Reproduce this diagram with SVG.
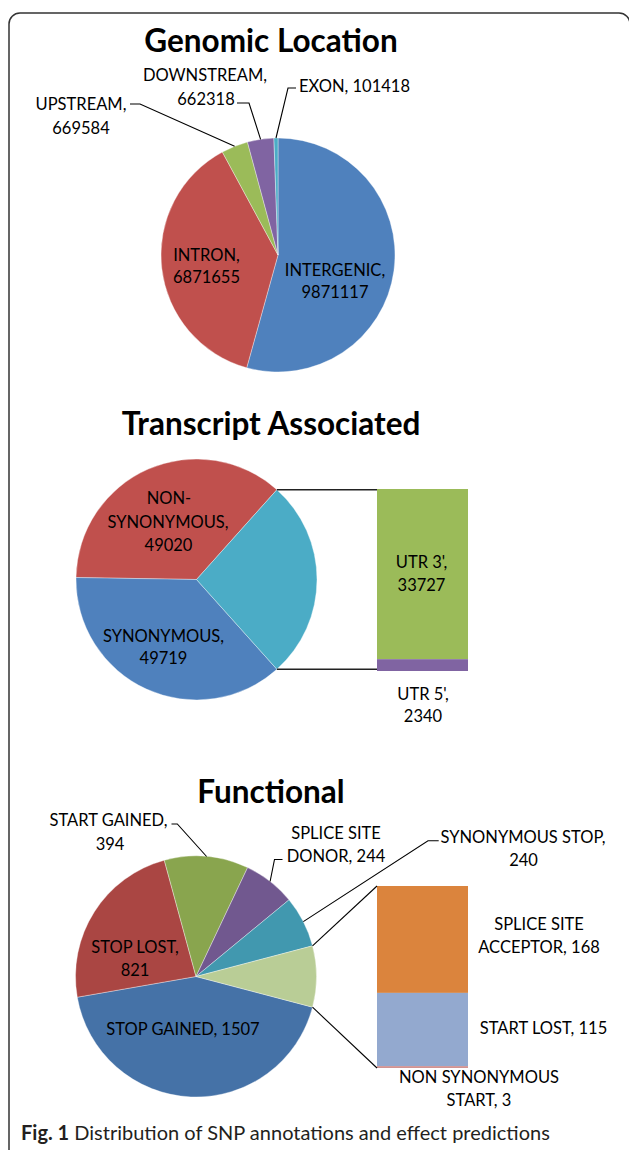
<svg xmlns="http://www.w3.org/2000/svg" width="629" height="1150" viewBox="0 0 629 1150">
  <style>
    text { font-family: Lato, "Liberation Sans", sans-serif; fill: #000; }
    .title { font-weight: 700; font-size: 31.5px; text-anchor: middle; }
    .lbl { font-size: 16.5px; text-anchor: middle; }
    .cap { font-size: 20px; fill: #231f20; }
    .sep { stroke: #ffffff; stroke-opacity: 0.45; stroke-width: 0.8; }
    .lead { stroke: #000; stroke-width: 1.1; fill: none; }
    .link { stroke: #222; stroke-width: 1.4; fill: none; }
    .frame { stroke: #333; stroke-width: 1.5; fill: none; }
  </style>

  <!-- figure frame -->
  <path class="frame" d="M9,1150 V24 A11,11 0 0 1 20,13 H619 A11,11 0 0 1 630,24"/>

  <!-- ===== Genomic Location ===== -->
  <text class="title" x="271" y="52">Genomic Location</text>

  <g id="genomic-intergenic">
    <path class="sep" fill="#4F81BD" d="M278,255 L278,138 A117,117 0 1 1 246.71,367.74 Z"/>
    <text class="lbl" x="335" y="276">INTERGENIC,</text>
    <text class="lbl" x="335" y="298">9871117</text>
  </g>
  <g id="genomic-intron">
    <path class="sep" fill="#C0504D" d="M278,255 L246.71,367.74 A117,117 0 0 1 222.37,152.07 Z"/>
    <text class="lbl" x="206.5" y="260.5">INTRON,</text>
    <text class="lbl" x="206.5" y="283">6871655</text>
  </g>
  <g id="genomic-upstream">
    <path class="sep" fill="#9BBB59" d="M278,255 L222.37,152.07 A117,117 0 0 1 247.46,142.06 Z"/>
    <text class="lbl" x="81" y="110">UPSTREAM,</text>
    <text class="lbl" x="81" y="133.5">669584</text>
  </g>
  <g id="genomic-downstream">
    <path class="sep" fill="#8064A2" d="M278,255 L247.46,142.06 A117,117 0 0 1 273.90,138.07 Z"/>
    <text class="lbl" x="205" y="81">DOWNSTREAM,</text>
    <text class="lbl" x="206" y="104.5">662318</text>
  </g>
  <g id="genomic-exon">
    <path class="sep" fill="#4BACC6" d="M278,255 L273.90,138.07 A117,117 0 0 1 278,138 Z"/>
    <text class="lbl" x="354.5" y="92">EXON, 101418</text>
  </g>

  <!-- ===== Transcript Associated ===== -->
  <text class="title" x="271" y="435">Transcript Associated</text>

  <g id="transcript-nonsyn">
    <path class="sep" fill="#C0504D" d="M196.5,579.5 L76.02,577.54 A120.5,120.5 0 0 1 276.88,489.73 Z"/>
    <text class="lbl" x="169" y="504">NON-</text>
    <text class="lbl" x="168" y="527.5">SYNONYMOUS,</text>
    <text class="lbl" x="168.5" y="551">49020</text>
  </g>
  <g id="transcript-syn">
    <path class="sep" fill="#4F81BD" d="M196.5,579.5 L276.88,669.27 A120.5,120.5 0 0 1 76.02,577.54 Z"/>
    <text class="lbl" x="163.5" y="642">SYNONYMOUS,</text>
    <text class="lbl" x="163.5" y="664">49719</text>
  </g>
  <g id="transcript-utr">
    <path class="sep" fill="#4BACC6" d="M196.5,579.5 L276.88,489.73 A120.5,120.5 0 0 1 276.88,669.27 Z"/>
  </g>
  <g id="transcript-utr3">
    <rect x="377" y="489" width="91" height="170.2" fill="#9BBB59"/>
    <text class="lbl" x="421.5" y="567.5">UTR 3',</text>
    <text class="lbl" x="421.5" y="590.5">33727</text>
  </g>
  <g id="transcript-utr5">
    <rect x="377" y="659.2" width="91" height="11.8" fill="#8064A2"/>
    <text class="lbl" x="423" y="700">UTR 5',</text>
    <text class="lbl" x="423" y="722">2340</text>
  </g>

  <!-- ===== Functional ===== -->
  <text class="title" x="271" y="803">Functional</text>

  <g id="func-stop-gained">
    <path class="sep" fill="#4572A7" d="M196,976.5 L312.53,1007.16 A120.5,120.5 0 0 1 77.29,997.21 Z"/>
    <text class="lbl" x="183" y="1035">STOP GAINED, 1507</text>
  </g>
  <g id="func-stop-lost">
    <path class="sep" fill="#AA4643" d="M196,976.5 L77.29,997.21 A120.5,120.5 0 0 1 164.29,860.25 Z"/>
    <text class="lbl" x="135" y="953">STOP LOST,</text>
    <text class="lbl" x="135" y="975.5">821</text>
  </g>
  <g id="func-start-gained">
    <path class="sep" fill="#89A54E" d="M196,976.5 L164.29,860.25 A120.5,120.5 0 0 1 247.61,867.61 Z"/>
    <text class="lbl" x="108.5" y="826">START GAINED,</text>
    <text class="lbl" x="110" y="849.5">394</text>
  </g>
  <g id="func-splice-donor">
    <path class="sep" fill="#71588F" d="M196,976.5 L247.61,867.61 A120.5,120.5 0 0 1 288.99,899.86 Z"/>
    <text class="lbl" x="336" y="838.5">SPLICE SITE</text>
    <text class="lbl" x="336" y="861.5">DONOR, 244</text>
  </g>
  <g id="func-syn-stop">
    <path class="sep" fill="#4198AF" d="M196,976.5 L288.99,899.86 A120.5,120.5 0 0 1 312.53,945.84 Z"/>
    <text class="lbl" x="523" y="842.5">SYNONYMOUS STOP,</text>
    <text class="lbl" x="523.5" y="865.5">240</text>
  </g>
  <g id="func-other">
    <path class="sep" fill="#B9CD96" d="M196,976.5 L312.53,945.84 A120.5,120.5 0 0 1 312.53,1007.16 Z"/>
  </g>
  <g id="func-splice-acceptor">
    <rect x="377" y="886" width="91" height="106.9" fill="#DB843D"/>
    <text class="lbl" x="539" y="930">SPLICE SITE</text>
    <text class="lbl" x="539" y="953">ACCEPTOR, 168</text>
  </g>
  <g id="func-start-lost">
    <rect x="377" y="992.9" width="91" height="73.2" fill="#93A9CF"/>
    <text class="lbl" x="543.5" y="1033.5">START LOST, 115</text>
  </g>
  <g id="func-nonsyn-start">
    <rect x="377" y="1066.1" width="91" height="1.9" fill="#D19392"/>
    <text class="lbl" x="479" y="1083">NON SYNONYMOUS</text>
    <text class="lbl" x="479" y="1106">START, 3</text>
  </g>

  <!-- leader lines and pie-to-bar links -->
  <g id="connectors">
    <path class="lead" d="M130,104 H140 L234.6,146.3"/>
    <path class="lead" d="M237,103 H249 L260.6,139.3"/>
    <path class="lead" d="M296,88 H288 L276,138"/>
    <path class="link" d="M276.9,489.7 H377"/>
    <path class="link" d="M276.9,669.3 H377"/>
    <path class="lead" d="M171.5,824 H177.3 L206.6,856.5"/>
    <path class="lead" d="M282.5,859.5 H274.5 L270.1,881.5"/>
    <path class="lead" d="M438.7,840.7 H428 L303.3,921.6"/>
    <path class="lead" d="M312.5,945.8 L377,886"/>
    <path class="lead" d="M312.5,1007.2 L377,1068"/>
  </g>

  <!-- caption -->
  <text class="cap" x="21" y="1140"><tspan font-weight="700">Fig. 1</tspan> Distribution of SNP annotations and effect predictions</text>
</svg>
